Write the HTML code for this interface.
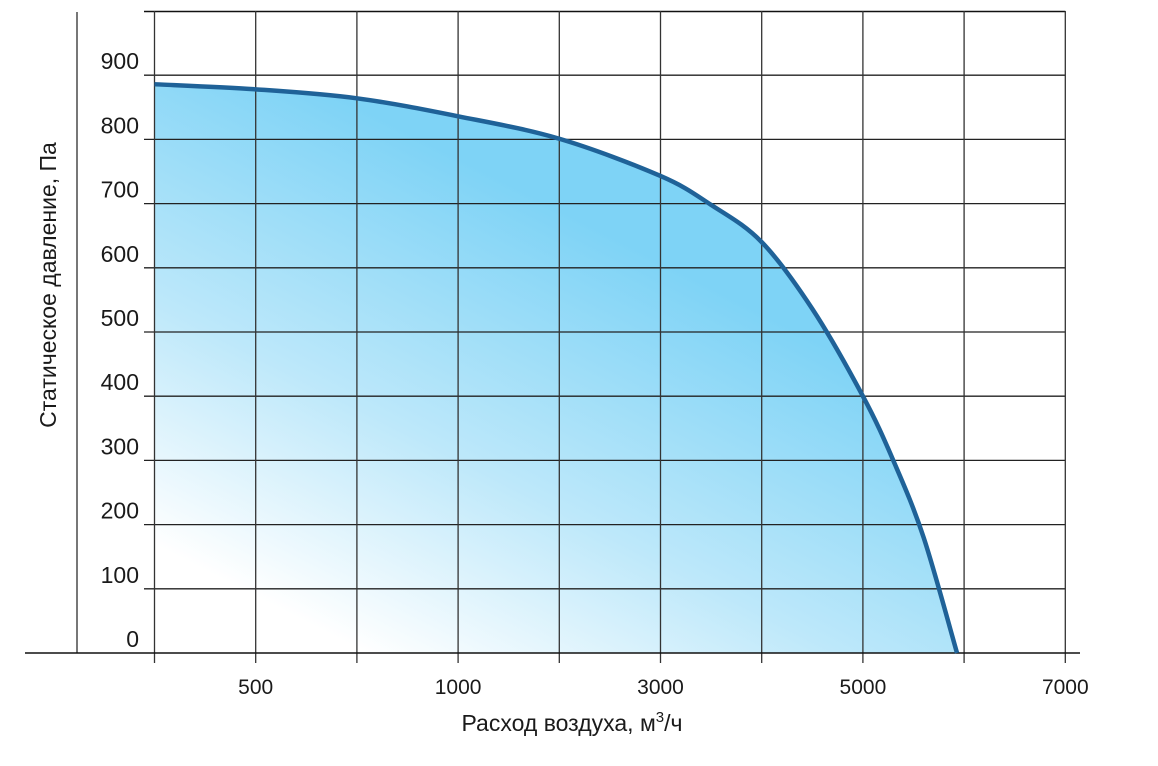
<!DOCTYPE html>
<html><head><meta charset="utf-8"><style>
body{margin:0;background:#fff;}
svg{display:block;font-family:"Liberation Sans",Arial,sans-serif;}
</style></head><body>
<svg id="chart" width="1158" height="766" viewBox="0 0 1158 766">
<defs>
<linearGradient id="fillGrad" gradientUnits="userSpaceOnUse" x1="380" y1="660" x2="600" y2="230">
<stop offset="0" stop-color="#ffffff"/>
<stop offset="0.45" stop-color="#bde8fa"/>
<stop offset="1" stop-color="#7ed3f6"/>
</linearGradient>
</defs>
<path id="area" fill="url(#fillGrad)" stroke="none"/>
<g id="gridTop"></g>
<path id="curve" fill="none" stroke="#1f6298" stroke-width="4.5"/>
<g id="labels"></g>
<text transform="translate(56,285) rotate(-90)" text-anchor="middle" font-size="23" fill="#1a1a1a">Статическое давление, Па</text>
<text x="572" y="731" text-anchor="middle" font-size="23" fill="#1a1a1a">Расход воздуха, м<tspan dy="-9" font-size="15">3</tspan><tspan dy="9">/ч</tspan></text>
</svg>
<script>
const xTickLabels = ["", "500", "", "1000", "", "3000", "", "5000", "", "7000"];
const yTicks = [0,100,200,300,400,500,600,700,800,900];
const curveX = [0, 1, 2, 3, 4, 5, 5.5, 6, 6.5, 7, 7.3, 7.6, 7.93];
const curveP = [886, 878, 864, 836, 801, 743, 698, 640, 536, 400, 300, 180, 0];

const NS="http://www.w3.org/2000/svg";
const x0=154.5, dx=101.2, y0=653, dy=0.642;
function sx(i){return x0+i*dx;}
function sy(p){return y0-p*dy;}
function mk(tag,attrs,parent){const e=document.createElementNS(NS,tag);for(const k in attrs)e.setAttribute(k,attrs[k]);parent.appendChild(e);return e;}
const grid=document.getElementById('gridTop');
const labels=document.getElementById('labels');
const la=mk('line',{x1:77,y1:12,x2:77,y2:653,stroke:'#777','stroke-width':2},grid);


const tl=mk('line',{x1:144,y1:11.5,x2:sx(9),y2:11.5,stroke:'#111','stroke-width':1.5},grid);


yTicks.forEach(function(v){
  if(v>0){
    const l=mk('line',{x1:144,y1:sy(v),x2:sx(9),y2:sy(v),stroke:'#222','stroke-width':1.3},grid);
    
    
  }
  const t=mk('text',{x:139,y:sy(v)-6,'text-anchor':'end','font-size':23,fill:'#1a1a1a'},labels);
  t.textContent=String(v);
  
  
});
xTickLabels.forEach(function(lab,i){
  const l=mk('line',{x1:sx(i),y1:11,x2:sx(i),y2:663,stroke:'#333','stroke-width':1.3},grid);
  
  
  if(lab){
    const t=mk('text',{x:sx(i),y:694,'text-anchor':'middle','font-size':21,fill:'#1a1a1a'},labels);
    t.textContent=lab;
    
    
  }
});
const bl=mk('line',{x1:25,y1:653,x2:1080,y2:653,stroke:'#111','stroke-width':1.5},grid);


const pts=curveX.map((x,i)=>[sx(x),sy(curveP[i])]);
let d='M'+pts[0][0]+','+pts[0][1];
for(let i=0;i<pts.length-1;i++){
  const p0=pts[i-1]||pts[i],p1=pts[i],p2=pts[i+1],p3=pts[i+2]||p2;
  const c1=[p1[0]+(p2[0]-p0[0])/6,p1[1]+(p2[1]-p0[1])/6];
  const c2=[p2[0]-(p3[0]-p1[0])/6,p2[1]-(p3[1]-p1[1])/6];
  d+=' C'+c1[0]+','+c1[1]+' '+c2[0]+','+c2[1]+' '+p2[0]+','+p2[1];
}
document.getElementById('curve').setAttribute('d',d);
document.getElementById('area').setAttribute('d',d+' L'+sx(0)+','+y0+' Z');
</script>
</body></html>
